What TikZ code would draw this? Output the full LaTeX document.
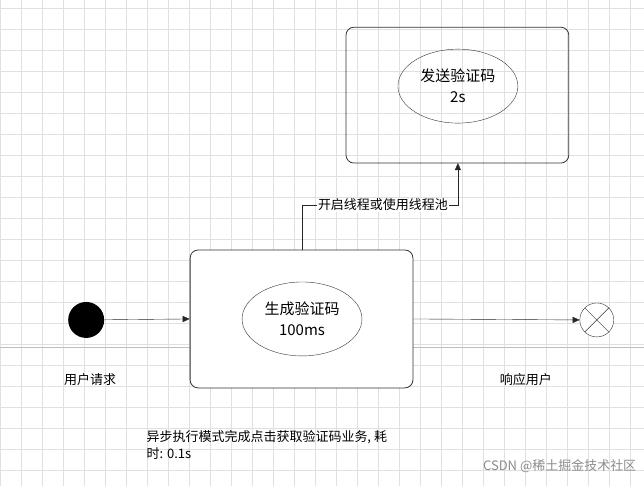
\documentclass[tikz,border=0pt]{standalone}
\usepackage{fontspec}
\newfontfamily\cjk{Noto Sans CJK SC}
\usetikzlibrary{shapes.geometric,arrows.meta,calc}
\begin{document}
\begin{tikzpicture}[x=1pt,y=-1pt,font=\cjk\fontsize{13}{17}\selectfont,
  box/.style={draw=black!80,rounded corners=8pt,thick},
  ell/.style={draw=black!80,ellipse,minimum width=120pt,minimum height=74pt,align=center,font=\cjk\fontsize{15}{21}\selectfont},
  conn/.style={draw=black!85,-{Triangle[length=7pt,width=6pt]}}]
\fill[white] (0,0) rectangle (644,486);
\foreach \x in {0,21,...,644} \draw[black!12,line width=0.4pt] (\x,0) -- (\x,486);
\foreach \y in {8,29,...,486} \draw[black!12,line width=0.4pt] (0,\y) -- (644,\y);
\draw[black!25,line width=0.5pt] (0,347) -- (644,347);
\node[box,minimum width=223pt,minimum height=136pt] (top) at (457.5,95) {};
\node[ell] (e1) at (458,86) {发送验证码\\2s};
\node[box,fill=white,minimum width=223pt,minimum height=138pt] (mid) at (301.5,319) {};
\node[ell] (e2) at (302,319) {生成验证码\\100ms};
\node[circle,fill=black,minimum size=36pt,inner sep=0] (start) at (86,320) {};
\node[circle,draw=black!80,fill=white,minimum size=34pt,inner sep=0] (end) at (597,320) {};
\draw[black!80] ($(end.center)+(-12,-12)$) -- ($(end.center)+(12,12)$) ($(end.center)+(-12,12)$) -- ($(end.center)+(12,-12)$);
\draw[conn] (start) -- (mid.west);
\draw[conn] (mid.east) -- (end.west);
\coordinate (b1) at (302,205);
\coordinate (b2) at (458,205);
\draw[conn] (302,250) -- (b1) -- (b2) -- (458,163);
\node[fill=white,inner sep=1pt] (lab) at (383,205) {开启线程或使用线程池};
\node (u) at (90,380) {用户请求};
\node (r) at (526,380) {响应用户};
\node[anchor=west,align=left] (note) at (143,445) {异步执行模式完成点击获取验证码业务, 耗\\时: 0.1s};
\node[anchor=east,text=black!45] (wm) at (640,466) {CSDN @稀土掘金技术社区};
\end{tikzpicture}
\end{document}
